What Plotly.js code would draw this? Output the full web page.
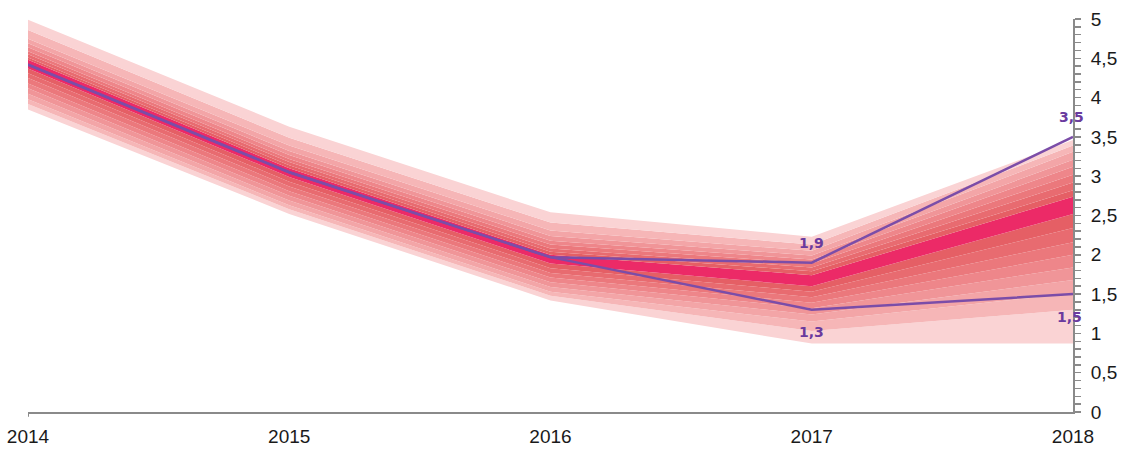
<!DOCTYPE html>
<html>
<head>
<meta charset="utf-8">
<script src="https://cdn.plot.ly/plotly-3.0.1.min.js"></script>
<style>html,body{margin:0;padding:0;background:#fff}#chart{width:1125px;height:451px}</style>
</head>
<body>
<div id="chart"></div>
<script>
// ---- data ----
const years = [2014, 2015, 2016, 2017, 2018];

// central (most likely) band
const centerLow  = [4.37, 2.99, 1.89, 1.60, 2.52];
const centerHigh = [4.48, 3.10, 2.00, 1.74, 2.74];

// upper band boundaries, from the centre outwards
const upperBounds = [
  [4.51, 3.14, 2.04, 1.79, 2.82],
  [4.55, 3.18, 2.08, 1.84, 2.92],
  [4.59, 3.22, 2.13, 1.89, 3.02],
  [4.64, 3.27, 2.18, 1.94, 3.12],
  [4.69, 3.32, 2.24, 1.99, 3.21],
  [4.75, 3.39, 2.31, 2.05, 3.31],
  [4.86, 3.49, 2.41, 2.13, 3.39],
  [4.99, 3.63, 2.54, 2.23, 3.46]
];
// lower band boundaries, from the centre outwards
const lowerBounds = [
  [4.31, 2.93, 1.83, 1.53, 2.34],
  [4.25, 2.87, 1.77, 1.46, 2.16],
  [4.18, 2.81, 1.71, 1.39, 2.00],
  [4.12, 2.75, 1.65, 1.32, 1.84],
  [4.05, 2.69, 1.59, 1.24, 1.68],
  [3.98, 2.63, 1.53, 1.15, 1.51],
  [3.92, 2.58, 1.48, 1.03, 1.30],
  [3.85, 2.52, 1.42, 0.87, 0.87]
];

// scenario lines
const scenarioHigh = [4.42, 3.05, 1.97, 1.9, 3.5];
const scenarioLow  = [4.42, 3.05, 1.97, 1.3, 1.5];

const yTickVals = [0, 0.5, 1, 1.5, 2, 2.5, 3, 3.5, 4, 4.5, 5];

// ---- styles ----
const bandColors = ['#E55F65', '#E86B70', '#EB787C', '#EE868A', '#F09598', '#F3A5A7', '#F6B6B7', '#FAD3D4']; // inner -> outer
const centerColor = '#EC2A67';
const lineColor = '#7B4DA8';
const labelColor = '#6A3A9E';

const traces = [];
const boundaries = [];
for (let i = lowerBounds.length - 1; i >= 0; i--) boundaries.push(lowerBounds[i]);
boundaries.push(centerLow);
boundaries.push(centerHigh);
for (let i = 0; i < upperBounds.length; i++) boundaries.push(upperBounds[i]);

const nL = lowerBounds.length;
function bandFill(idx) {
  if (idx <= nL) return bandColors[nL - idx];
  if (idx === nL + 1) return centerColor;
  return bandColors[idx - nL - 2];
}

boundaries.forEach((yv, idx) => {
  const t = {
    x: years, y: yv, type: 'scatter', mode: 'lines',
    line: {width: 0, color: 'rgba(0,0,0,0)'},
    hoverinfo: 'skip', showlegend: false
  };
  if (idx > 0) {
    t.fill = 'tonexty';
    t.fillcolor = bandFill(idx);
  }
  traces.push(t);
});

traces.push({x: years, y: scenarioHigh, type: 'scatter', mode: 'lines',
  line: {color: lineColor, width: 2.5}, showlegend: false});
traces.push({x: years, y: scenarioLow, type: 'scatter', mode: 'lines',
  line: {color: lineColor, width: 2.5}, showlegend: false});

const fmt = v => String(v).replace('.', ',');
const annotations = [
  {x: years[3], y: scenarioHigh[3], text: fmt(scenarioHigh[3]), yshift: 20, xshift: 0},
  {x: years[3], y: scenarioLow[3], text: fmt(scenarioLow[3]), yshift: -22, xshift: 0},
  {x: years[4], y: scenarioHigh[4], text: fmt(scenarioHigh[4]), yshift: 20, xshift: -2},
  {x: years[4], y: scenarioLow[4], text: fmt(scenarioLow[4]), yshift: -23, xshift: -4}
].map(a => Object.assign({
  xref: 'x', yref: 'y', showarrow: false,
  font: {family: 'DejaVu Sans', size: 14, color: labelColor, weight: 'bold'}
}, a));

const layout = {
  width: 1125, height: 451,
  margin: {l: 28, r: 52, t: 19, b: 39},
  paper_bgcolor: '#fff', plot_bgcolor: '#fff',
  separators: ', ',
  showlegend: false,
  font: {family: 'Liberation Sans, Arial, sans-serif', size: 19, color: '#1a1a1a'},
  xaxis: {
    range: [2014, 2018], tickvals: years, ticktext: years.map(String),
    showgrid: false, zeroline: false, showline: true, linecolor: '#8a8a8a', linewidth: 2,
    ticks: '', tickfont: {size: 19, color: '#1a1a1a'}, ticklabelstandoff: 6
  },
  yaxis: {
    range: [0, 5], side: 'right', tickvals: yTickVals,
    showgrid: false, zeroline: false, showline: true, linecolor: '#8a8a8a', linewidth: 2,
    ticks: 'outside', ticklen: 6, tickcolor: '#8a8a8a', tickwidth: 1.5,
    minor: {dtick: 0.1, ticks: 'outside', ticklen: 6, tickcolor: '#8a8a8a', tickwidth: 1.5, showgrid: false},
    tickfont: {size: 19, color: '#1a1a1a'}, ticklabelstandoff: 6
  },
  shapes: [{type: 'line', xref: 'x', yref: 'paper', x0: years[0], x1: years[0], y0: 0, y1: -0.012,
    line: {color: '#8a8a8a', width: 2}}],
  annotations: annotations
};

Plotly.newPlot('chart', traces, layout, {displayModeBar: false, staticPlot: true});
</script>
</body>
</html>
